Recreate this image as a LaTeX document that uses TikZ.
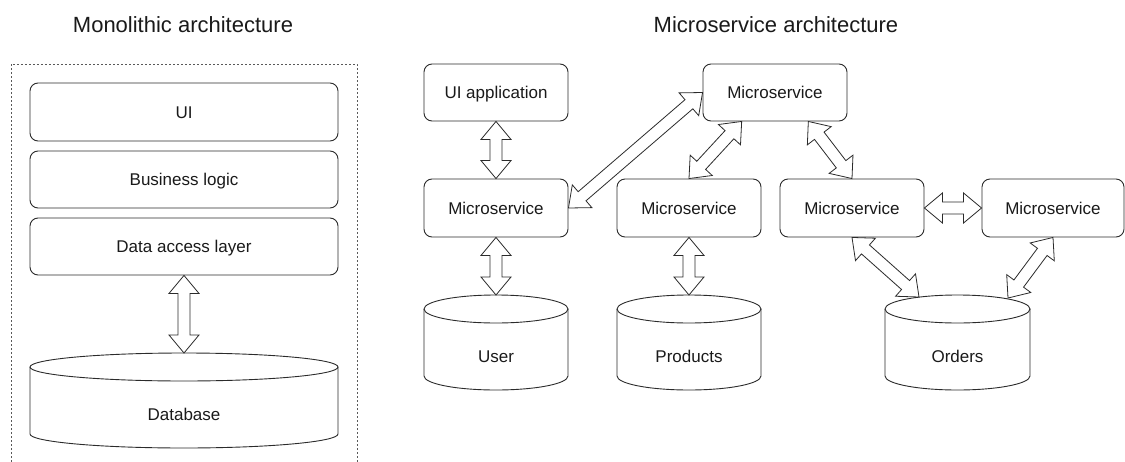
\documentclass[tikz,border=0pt]{standalone}
\usepackage{fontspec}
\setmainfont{Liberation Sans}
\usetikzlibrary{calc}

\definecolor{ink}{HTML}{1A1A1A}
\definecolor{edge}{HTML}{2B2B2B}

\tikzset{
  box/.style={draw=edge, line width=0.9pt, rounded corners=8pt, minimum height=57pt,
              inner sep=0pt, text=ink, font=\fontsize{17}{20}\selectfont,
              text height=12.2pt, text depth=-1pt},
  lbl/.style={text=ink, font=\fontsize{17}{20}\selectfont, inner sep=0pt,
              text height=12.2pt, text depth=0pt},
  ttl/.style={text=ink, font=\fontsize{22}{26}\selectfont, inner sep=0pt},
  dbline/.style={draw=edge, line width=0.9pt},
  arrowline/.style={draw=edge, line width=0.8pt, fill=white, line join=miter},
  frame/.style={draw=gray!70!black, line width=0.9pt, dash pattern=on 2pt off 2pt},
}

% block double arrow between two points
\newcommand\dblarrow[2]{%
  \coordinate (da) at #1;
  \coordinate (db) at #2;
  \draw[arrowline] (da)
    -- ($(da)!18pt!(db)!15pt!90:(db)$)
    -- ($(da)!18pt!(db)!6pt!90:(db)$)
    -- ($(db)!18pt!(da)!6pt!-90:(da)$)
    -- ($(db)!18pt!(da)!15pt!-90:(da)$)
    -- (db)
    -- ($(db)!18pt!(da)!15pt!90:(da)$)
    -- ($(db)!18pt!(da)!6pt!90:(da)$)
    -- ($(da)!18pt!(db)!6pt!-90:(db)$)
    -- ($(da)!18pt!(db)!15pt!-90:(db)$)
    -- cycle;}

% database cylinder: name, centre x, x radius, top ellipse centre y, bottom centre y, label
\newcommand\dbcyl[6]{%
  \draw[dbline] ({#2-#3},#4) -- ({#2-#3},#5)
    arc[start angle=180, end angle=360, x radius=#3pt, y radius=14pt] -- ({#2+#3},#4);
  \draw[dbline] (#2,#4) ellipse[x radius=#3pt, y radius=14pt];
  \coordinate (#1-top) at (#2,{#4-14});
  \node[lbl] (#1) at (#2,{(#4+#5)/2+14}) {#6};}

\begin{document}
\begin{tikzpicture}[x=1pt, y=-1pt]
\fill[white] (0,0) rectangle (1125,461);
\useasboundingbox (0,0) rectangle (1125,461);

% ---------- monolithic ----------
\node[ttl] (montitle) at (183,25) {Monolithic architecture};
\draw[frame] (11,470) -- (11,64) -- (357,64) -- (357,470);

\node[box, minimum width=308pt, minimum height=58pt] (ui)  at (184,112)   {UI};
\node[box, minimum width=308pt] (bl)  at (184,179.5) {Business logic};
\node[box, minimum width=308pt] (dal) at (184,246.5) {Data access layer};

\dbcyl{database}{184}{154}{367}{434}{Database}
\dblarrow{(dal.south)}{(database-top)}

% ---------- microservices ----------
\node[ttl] (mictitle) at (776,25) {Microservice architecture};

\node[box, minimum width=144pt] (uiapp) at (496,92.5) {UI application};
\node[box, minimum width=144pt] (mstop) at (775,92.5) {Microservice};
\node[box, minimum width=144pt, minimum height=58pt] (ms1) at (496,208) {Microservice};
\node[box, minimum width=144pt, minimum height=58pt] (ms2) at (689,208) {Microservice};
\node[box, minimum width=144pt, minimum height=58pt] (ms3) at (852,208) {Microservice};
\node[box, minimum width=142pt, minimum height=58pt] (ms4) at (1053,208) {Microservice};

\dbcyl{user}{496}{72}{309}{376}{User}
\dbcyl{products}{689}{72}{309}{376}{Products}
\dbcyl{orders}{957.5}{72.5}{309}{376}{Orders}

\coordinate (mstop-l) at ($(mstop.south west)!0.27!(mstop.south east)$);
\coordinate (mstop-r) at ($(mstop.south west)!0.73!(mstop.south east)$);
\coordinate (orders-l) at (919,297);
\coordinate (orders-r) at (1008,298);

\dblarrow{(uiapp.south)}{(ms1.north)}
\dblarrow{(ms1.south)}{(user-top)}
\dblarrow{(ms2.south)}{(products-top)}
\dblarrow{(ms1.east)}{(mstop.west)}
\dblarrow{(mstop-l)}{(ms2.north)}
\dblarrow{(mstop-r)}{(ms3.north)}
\dblarrow{(ms3.east)}{(ms4.west)}
\dblarrow{(ms3.south)}{(orders-l)}
\dblarrow{(ms4.south)}{(orders-r)}
\end{tikzpicture}
\end{document}
